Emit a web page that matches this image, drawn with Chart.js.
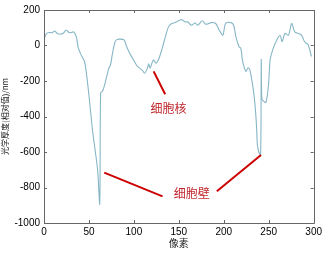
<!DOCTYPE html>
<html>
<head>
<meta charset="utf-8">
<script src="https://cdn.jsdelivr.net/npm/chart.js@4"></script>
<style>
  html, body { margin: 0; padding: 0; background: #fff; }
  #wrap { width: 326px; height: 253px; }
</style>
</head>
<body>
<div id="wrap"><canvas id="c" width="326" height="253"></canvas></div>
<script>
// profile
const pixel = [0, 3, 6, 9, 12, 15, 18, 21, 25, 28, 31, 33, 36, 38, 41, 45, 47, 50, 54, 56, 59.7, 62, 63, 65, 67, 70, 72, 74, 76, 79, 81, 84, 89, 92, 96, 100, 104, 109, 112, 115, 116.5, 118, 120, 122, 124.5, 127.5, 131, 135, 138.5, 142, 146, 149.5, 153, 157, 160, 164, 168, 171, 176, 180, 186, 191, 195, 199, 202, 208, 211, 213.5, 217, 219, 221, 224.6, 227, 229, 232, 234, 235.6, 236.7, 237.4, 239, 241, 241.7, 242.4, 244.4, 247, 249.8, 251.6, 255, 259, 262.6, 265, 268, 272, 275.5, 279, 283, 286.5, 290, 294, 297.5];
const thickness = [36, 68, 73, 72, 81, 66, 65, 68, 87, 72, 74, 77, 49, -10, -50, -90, -150, -280, -480, -556, -705, -891, -267, -258, -230, -170, -130, -109, -50, 20, 33, 36, 31, -7, -50, -85, -118, -137, -156, -128, -103, -128, -100, -81, -100, -78, -25, 49, 105, 124, 129, 139, 146, 133, 133, 114, 127, 114, 139, 120, 129, 124, 86, 58, 124, 129, 114, 49, -7, -16, -90, -146, -126, -137, -220, -295, -388, -481, -560, -600, -617, -81, -300, -314, -320, -220, -81, -16, 31, 58, 21, 68, 58, 124, 77, 68, 58, 21, 3, -62];

const xTicks = [0, 50, 100, 150, 200, 250, 300];
const yTicks = [-1000, -800, -600, -400, -200, 0, 200];

// annotations (data coords)
const arrows = [
  [[122, -146], [134.8, -275]],
  [[67, -716], [131.9, -850]],
  [[192.3, -821], [241.4, -617]]
];
const notes = [
  { text: '细胞核', x: 138.5, y: -355 },
  { text: '细胞壁', x: 164.3, y: -835 }
];

const boxTicks = {
  id: 'boxTicks',
  afterDatasetsDraw(chart) {
    const { ctx, chartArea: a, scales: { x, y } } = chart;
    ctx.save();
    ctx.strokeStyle = '#666';
    ctx.lineWidth = 1;
    ctx.beginPath();
    ctx.rect(Math.round(a.left) + 0.5, Math.round(a.top) + 0.5, Math.round(a.right - a.left), Math.round(a.bottom - a.top));
    xTicks.forEach(v => {
      const px = Math.round(x.getPixelForValue(v)) + 0.5;
      ctx.moveTo(px, a.bottom); ctx.lineTo(px, a.bottom - 3);
      ctx.moveTo(px, a.top); ctx.lineTo(px, a.top + 3);
    });
    yTicks.forEach(v => {
      const py = Math.round(y.getPixelForValue(v)) + 0.5;
      ctx.moveTo(a.left, py); ctx.lineTo(a.left + 3, py);
      ctx.moveTo(a.right, py); ctx.lineTo(a.right - 3, py);
    });
    ctx.stroke();

    ctx.strokeStyle = '#cc0000';
    ctx.lineWidth = 2;
    arrows.forEach(([p, q]) => {
      ctx.beginPath();
      ctx.moveTo(x.getPixelForValue(p[0]), y.getPixelForValue(p[1]));
      ctx.lineTo(x.getPixelForValue(q[0]), y.getPixelForValue(q[1]));
      ctx.stroke();
    });
    ctx.fillStyle = '#c0282d';
    ctx.font = '12px "Noto Sans CJK SC"';
    ctx.textAlign = 'center';
    ctx.textBaseline = 'middle';
    notes.forEach(n => ctx.fillText(n.text, x.getPixelForValue(n.x), y.getPixelForValue(n.y)));
    ctx.restore();
  }
};

new Chart(document.getElementById('c'), {
  type: 'line',
  data: {
    datasets: [{
      data: pixel.map((p, i) => ({ x: p, y: thickness[i] })),
      borderColor: '#86b6c6',
      borderWidth: 1.1,
      pointRadius: 0,
      tension: 0.3,
      fill: false
    }]
  },
  options: {
    responsive: false,
    animation: false,
    layout: { padding: { left: 0, right: 9, top: 8, bottom: 0 } },
    plugins: { legend: { display: false }, tooltip: { enabled: false } },
    scales: {
      x: {
        type: 'linear',
        min: 0, max: 300,
        afterBuildTicks: s => { s.ticks = xTicks.map(v => ({ value: v })); },
        afterFit: s => { s.height = 30; },
        grid: { display: false, drawTicks: false },
        border: { display: false },
        ticks: { color: '#000', font: { family: 'Liberation Sans', size: 10, lineHeight: 1 }, padding: 4, maxRotation: 0, callback: v => String(v) },
        title: { display: true, text: '像素', color: '#222', font: { family: 'Noto Sans CJK SC', size: 10, lineHeight: 1 }, padding: { top: 0, bottom: 5 } }
      },
      y: {
        type: 'linear',
        min: -1000, max: 200,
        afterBuildTicks: s => { s.ticks = yTicks.map(v => ({ value: v })); },
        afterFit: s => { s.width = 44; },
        grid: { display: false, drawTicks: false },
        border: { display: false },
        ticks: { color: '#000', font: { family: 'Liberation Sans', size: 10 }, padding: 4, callback: v => String(v) },
        title: { display: true, text: '光学厚度(相对值)/nm', color: '#222', font: { family: 'Noto Sans CJK SC', size: 8 }, padding: 0 }
      }
    }
  },
  plugins: [boxTicks]
});
</script>
</body>
</html>
